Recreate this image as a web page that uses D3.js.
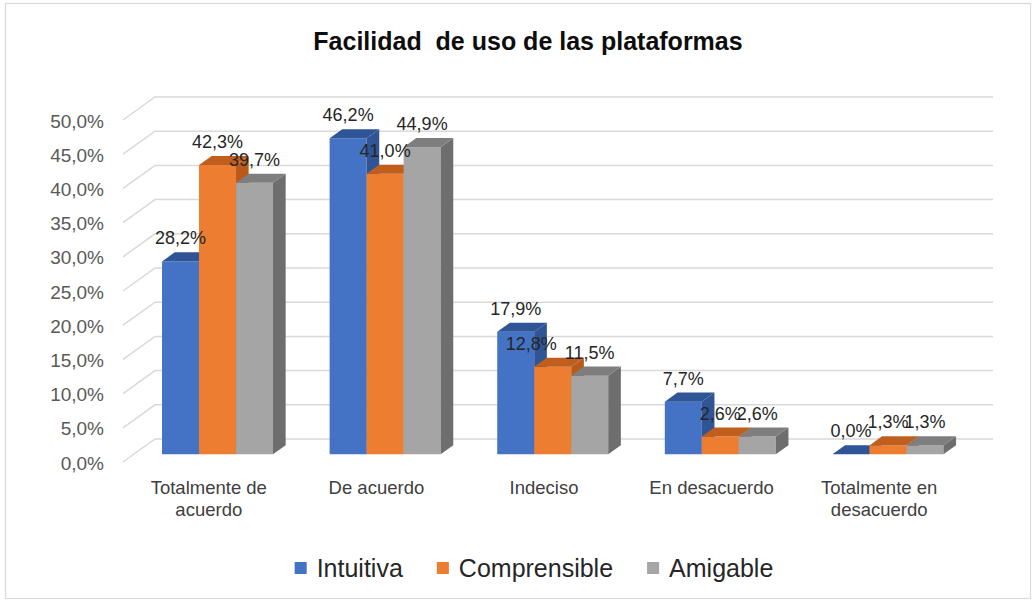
<!DOCTYPE html>
<html>
<head>
<meta charset="utf-8">
<script src="https://cdn.jsdelivr.net/npm/d3@7"></script>
<style>
  html, body { margin: 0; padding: 0; background: #fff; }
  svg { display: block; font-family: "Liberation Sans", Arial, sans-serif; }
</style>
</head>
<body>
<svg id="chart" width="1036" height="605"></svg>
<script>
// ---- Data ----
const title = "Facilidad  de uso de las plataformas";
const categories = ["Totalmente de acuerdo", "De acuerdo", "Indeciso", "En desacuerdo", "Totalmente en desacuerdo"];
const seriesNames = ["Intuitiva", "Comprensible", "Amigable"];
const intuitiva = [28.2, 46.2, 17.9, 7.7, 0.0];
const comprensible = [42.3, 41.0, 12.8, 2.6, 1.3];
const amigable = [39.7, 44.9, 11.5, 2.6, 1.3];
const yTicks = [0, 5, 10, 15, 20, 25, 30, 35, 40, 45, 50];

const seriesValues = [intuitiva, comprensible, amigable];
const colors = {
  front: ["#4472C4", "#ED7D31", "#A5A5A5"],
  side:  ["#2F5597", "#B95A1B", "#6E6E6E"],
  top:   ["#2F5597", "#C05E1E", "#7E7E7E"]
};

const svg = d3.select("#chart");

// chart border
svg.append("rect").attr("x", 5.5).attr("y", 3.5).attr("width", 1025).attr("height", 595)
  .attr("fill", "#fff").attr("stroke", "#D9D9D9").attr("stroke-width", 1.2);

// title
svg.append("text").attr("x", 528).attr("y", 50).attr("text-anchor", "middle")
  .attr("font-size", 25).attr("font-weight", "bold").attr("fill", "#0D0D0D")
  .style("white-space", "pre").attr("xml:space", "preserve").text(title);

// ---- Scales (back wall, depth projection) ----
const y = d3.scaleLinear().domain([0, 50]).range([439, 97]);
const x = d3.scaleBand().domain(categories).range([155, 993]).padding(0);
const xs = d3.scaleBand().domain(seriesNames).range([0, x.bandwidth()]).paddingInner(0).paddingOuter(0.765);
const DX = 32, DY = 23;           // full depth offset (back wall -> front)
const zFront = 0.665, zBack = 0.27; // bar depth positions
const P = (xb, v, z) => [xb - DX * z, y(v) + DY * z];

// gridlines on back wall and left wall
const grid = svg.append("g").attr("stroke", "#D9D9D9").attr("stroke-width", 1.5).attr("fill", "none");
yTicks.forEach(t => {
  const a = P(155, t, 0), b = P(993, t, 0), c = P(155, t, 1);
  grid.append("path").attr("d", `M${c[0]},${c[1]}L${a[0]},${a[1]}L${b[0]},${b[1]}`);
});

// y tick labels
svg.append("g").selectAll("text").data(yTicks).join("text")
  .attr("x", 104).attr("y", d => y(d) + DY + 7.5)
  .attr("text-anchor", "end").attr("font-size", 19).attr("fill", "#595959")
  .text(d => d.toFixed(1).replace(".", ",") + "%");

// bars
const fmt = v => v.toFixed(1).replace(".", ",") + "%";
const barsG = svg.append("g");
const labels = [];
categories.forEach((cat, ci) => {
  seriesNames.forEach((s, si) => {
    const v = seriesValues[si][ci];
    const x0 = x(cat) + xs(s), x1 = x0 + xs.bandwidth();
    const fbl = P(x0, 0, zFront), fbr = P(x1, 0, zFront), ftl = P(x0, v, zFront), ftr = P(x1, v, zFront);
    const bbr = P(x1, 0, zBack), btl = P(x0, v, zBack), btr = P(x1, v, zBack);
    const poly = pts => "M" + pts.map(p => p.join(",")).join("L") + "Z";
    barsG.append("path").attr("d", poly([fbl, fbr, ftr, ftl])).attr("fill", colors.front[si]);
    barsG.append("path").attr("d", poly([fbr, bbr, btr, ftr])).attr("fill", colors.side[si]);
    barsG.append("path").attr("d", poly([ftl, ftr, btr, btl])).attr("fill", colors.top[si]);
    labels.push({ x: (fbl[0] + fbr[0]) / 2, y: ftl[1] - 17, t: fmt(v), ci, si });
  });
});

// data labels
const lab = svg.append("g").selectAll("text").data(labels).join("text")
  .attr("x", d => d.x).attr("y", d => d.y).attr("text-anchor", "middle")
  .attr("font-size", 18).attr("fill", "#262626").text(d => d.t);
// nudge a label left when it overlaps its right neighbour markedly
const nodes = lab.nodes();
for (let i = nodes.length - 2; i >= 0; i--) {
  const a = labels[i], b = labels[i + 1];
  if (a.ci !== b.ci) continue;
  const ba = nodes[i].getBBox(), bb = nodes[i + 1].getBBox();
  const hOver = (ba.x + ba.width) - bb.x;
  const vOver = Math.min(ba.y + ba.height, bb.y + bb.height) - Math.max(ba.y, bb.y);
  if (hOver > 6 && vOver > 6) {
    const shift = hOver + 8;
    d3.select(nodes[i]).attr("x", a.x - shift);
  }
}

// category labels (wrapped)
const catG = svg.append("g");
categories.forEach(cat => {
  const cx = x(cat) + x.bandwidth() / 2 - DX + 2;
  const t = catG.append("text").attr("x", cx).attr("y", 494).attr("text-anchor", "middle")
    .attr("font-size", 18.5).attr("fill", "#404040");
  const words = cat.split(" ");
  let line = [];
  let ts = t.append("tspan").attr("x", cx).attr("dy", 0);
  words.forEach(w => {
    line.push(w);
    ts.text(line.join(" "));
    if (ts.node().getComputedTextLength() > 140 && line.length > 1) {
      line.pop();
      ts.text(line.join(" "));
      line = [w];
      ts = t.append("tspan").attr("x", cx).attr("dy", 22).text(w);
    }
  });
});

// legend
const leg = svg.append("g");
let lx = 0;
seriesNames.forEach((s, i) => {
  const g = leg.append("g").attr("transform", `translate(${lx},0)`);
  g.append("rect").attr("x", 0).attr("y", 562).attr("width", 12).attr("height", 12).attr("fill", colors.front[i]);
  const t = g.append("text").attr("x", 22).attr("y", 577).attr("font-size", 25).attr("fill", "#262626").text(s);
  lx += 22 + t.node().getComputedTextLength() + 34;
});
const legW = lx - 34;
leg.attr("transform", `translate(${534 - legW / 2},0)`);
</script>
</body>
</html>
